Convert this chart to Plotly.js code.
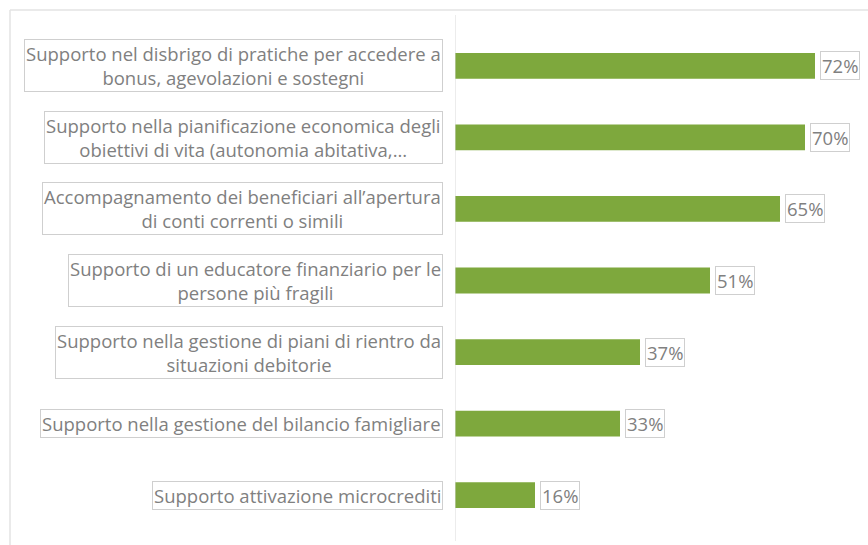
<!DOCTYPE html>
<html>
<head>
<meta charset="utf-8">
<script src="https://cdn.plot.ly/plotly-3.0.1.min.js"></script>
<style>
	html, body { margin: 0; padding: 0; background: #fff; }
	#chart { width: 868px; height: 545px; }
</style>
</head>
<body>
<div id="chart"></div>
<script>
(function(){

	'use strict';

	// categories, top to bottom (line breaks as in the original labels)
	const categories = [
		'Supporto nel disbrigo di pratiche per accedere a<br>bonus, agevolazioni e sostegni',
		'Supporto nella pianificazione economica degli<br>obiettivi di vita (autonomia abitativa,...',
		'Accompagnamento dei beneficiari all’apertura<br>di conti correnti o simili',
		'Supporto di un educatore finanziario per le<br>persone più fragili',
		'Supporto nella gestione di piani di rientro da<br>situazioni debitorie',
		'Supporto nella gestione del bilancio famigliare',
		'Supporto attivazione microcrediti',
	];

	// share of answers, percent
	const values = [72, 70, 65, 51, 37, 33, 16];

	const green = '#7ea83d';
	const grey = '#808080';
	const boxLine = '#cfcfcf';
	const font = { family: 'Open Sans, sans-serif', size: 18.5, color: grey };

	const bars = {
		type: 'bar',
		orientation: 'h',
		x: values,
		y: categories,
		marker: { color: green },
		hoverinfo: 'x+y',
		showlegend: false,
	};

	// category labels, boxed, right aligned against the axis
	const catLabels = categories.map(( c ) => ({
		xref: 'x', yref: 'y',
		x: 0, y: c,
		text: c,
		showarrow: false,
		xanchor: 'right',
		xshift: -12,
		align: 'center',
		font,
		bordercolor: boxLine,
		borderwidth: 1,
		borderpad: 1,
	}));

	// value labels to the right of each bar
	const valLabels = values.map(( v, i ) => ({
		xref: 'x', yref: 'y',
		x: v, y: categories[i],
		text: v + '%',
		showarrow: false,
		xanchor: 'left',
		xshift: 5,
		font,
		bordercolor: boxLine,
		borderwidth: 1,
		borderpad: 1,
	}));

	const layout = {
		width: 868,
		height: 545,
		margin: { l: 455, r: 13, t: 30, b: 14 },
		paper_bgcolor: '#ffffff',
		plot_bgcolor: '#ffffff',
		bargap: 0.64,
		xaxis: {
			range: [0, 80],
			visible: false,
			fixedrange: true,
		},
		yaxis: {
			type: 'category',
			autorange: 'reversed',
			showticklabels: false,
			showgrid: false,
			zeroline: false,
			ticks: '',
			fixedrange: true,
		},
		annotations: catLabels.concat( valLabels ),
		shapes: [
			// vertical axis line
			{ type: 'line', xref: 'x', yref: 'paper', x0: 0, x1: 0, y0: -0.02, y1: 1.03,
				line: { color: '#d9d9d9', width: 1 } },
			// outer frame of the figure (left and top edges)
			{ type: 'line', xref: 'paper', yref: 'paper', x0: -1.1125, x1: -1.1125, y0: -0.1, y1: 1.04,
				line: { color: '#e3e3e3', width: 1.5 } },
			{ type: 'line', xref: 'paper', yref: 'paper', x0: -1.1125, x1: 1.1, y0: 1.04, y1: 1.04,
				line: { color: '#e3e3e3', width: 1.5 } },
		],
	};

	Plotly.newPlot('chart', [ bars ], layout, { displayModeBar: false, staticPlot: true });

})();
</script>
</body>
</html>
